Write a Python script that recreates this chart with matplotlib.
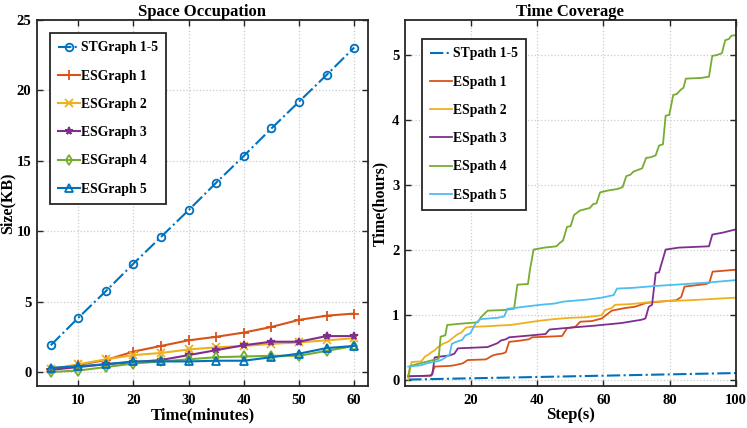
import matplotlib.pyplot as plt
import numpy as np

# ---- data: left panel (space occupation) ----
minutes = [5, 10, 15, 20, 25, 30, 35, 40, 45, 50, 55, 60]
st_graph = [1.9, 3.85, 5.75, 7.7, 9.6, 11.5, 13.45, 15.35, 17.3, 19.2, 21.1, 23.05]
es_graph1 = [0.2, 0.5, 0.85, 1.45, 1.85, 2.25, 2.5, 2.8, 3.2, 3.7, 4.0, 4.15]
es_graph2 = [0.2, 0.55, 0.9, 1.2, 1.35, 1.6, 1.75, 1.85, 2.0, 2.1, 2.25, 2.4]
es_graph3 = [0.15, 0.35, 0.55, 0.7, 0.85, 1.2, 1.55, 1.9, 2.15, 2.15, 2.55, 2.55]
es_graph4 = [0.0, 0.1, 0.35, 0.6, 0.75, 0.9, 1.05, 1.1, 1.15, 1.15, 1.5, 1.85]
es_graph5 = [0.3, 0.4, 0.55, 0.75, 0.75, 0.75, 0.8, 0.8, 1.05, 1.3, 1.7, 1.85]

# ---- data: right panel (time coverage) ----
st_path_x = [1, 100]
st_path_y = [0.0, 0.1]

es_path1_x = [1, 8, 9, 13.5, 15, 17.5, 19, 24.5, 25.5, 26.5, 28, 29.5, 30.5, 31.5, 35, 37.5,
              38.5, 47.5, 49, 51.5, 53, 56.5, 59.5, 60.5, 62.5, 66.5, 69.5, 73, 82, 83.5, 84.5,
              91, 92, 93, 100]
es_path1_y = [0.05, 0.06, 0.2, 0.21, 0.22, 0.25, 0.3, 0.31, 0.34, 0.37, 0.39, 0.4, 0.42, 0.58,
              0.6, 0.62, 0.65, 0.67, 0.79, 0.81, 0.89, 0.9, 0.94, 0.98, 1.06, 1.1, 1.12, 1.18,
              1.22, 1.27, 1.43, 1.47, 1.49, 1.66, 1.69]

es_path2_x = [1, 2, 5, 6, 7, 8, 9, 10, 11.5, 13, 14, 16, 17, 18.5, 20, 25, 28, 32, 36, 40, 45,
              50, 55, 59.5, 60.5, 62.5, 63.5, 68, 76, 86, 100]
es_path2_y = [0.0, 0.27, 0.28, 0.35, 0.38, 0.42, 0.45, 0.5, 0.55, 0.58, 0.62, 0.7, 0.72, 0.8,
              0.81, 0.82, 0.83, 0.84, 0.87, 0.9, 0.93, 0.95, 0.96, 0.99, 1.07, 1.1, 1.15, 1.16,
              1.2, 1.22, 1.26]

es_path3_x = [1, 7.5, 8.3, 9, 10, 13.5, 15, 16, 25, 26.5, 28, 29, 30.5, 31.5, 36, 42.5, 43.7,
              48, 57.5, 65.5, 71.5, 72.7, 73.7, 74.7, 75.8, 76.8, 78.8, 82.8, 91.9, 92.9, 96, 100]
es_path3_y = [0.05, 0.06, 0.08, 0.34, 0.35, 0.37, 0.4, 0.48, 0.5, 0.53, 0.56, 0.6, 0.62, 0.65,
              0.67, 0.7, 0.77, 0.79, 0.83, 0.87, 0.92, 0.94, 1.12, 1.15, 1.64, 1.65, 2.0, 2.03,
              2.05, 2.23, 2.26, 2.31]

es_path4_x = [1, 1.6, 8.5, 10.2, 10.8, 12.2, 12.8, 17, 22, 23, 25, 30, 33, 34, 37.2, 37.8, 38.9,
              42.2, 45.8, 46.8, 47.8, 49, 50.1, 51.1, 52.9, 55.9, 56.9, 57.9, 59, 61.5, 64.1,
              65.8, 66.9, 68.1, 69.1, 71.7, 72.9, 74.3, 75.8, 76.8, 78, 78.8, 79.9, 81.1, 82.1,
              83.4, 84.2, 84.9, 89.5, 91.9, 92.9, 94.1, 95.8, 96.8, 97.9, 98.7, 100]
es_path4_y = [0.05, 0.21, 0.3, 0.32, 0.66, 0.68, 0.84, 0.86, 0.88, 0.96, 1.06, 1.07, 1.09, 1.46,
              1.47, 1.69, 2.0, 2.03, 2.05, 2.1, 2.14, 2.35, 2.36, 2.53, 2.6, 2.64, 2.7, 2.71,
              2.88, 2.91, 2.93, 2.96, 3.13, 3.15, 3.2, 3.25, 3.41, 3.42, 3.45, 3.6, 3.62, 4.06,
              4.07, 4.38, 4.39, 4.46, 4.49, 4.63, 4.64, 4.66, 4.98, 4.99, 5.02, 5.22, 5.24, 5.29,
              5.3]

es_path5_x = [1, 5, 6.6, 9.7, 11, 13.5, 14.2, 15.5, 17.3, 18.3, 19.8, 21.4, 22.9, 28, 30, 31,
              33, 36, 41, 45.3, 48, 55, 59.5, 63.1, 64.1, 68.7, 75.8, 91, 100]
es_path5_y = [0.2, 0.22, 0.25, 0.28, 0.3, 0.38, 0.55, 0.58, 0.61, 0.68, 0.71, 0.87, 0.93, 0.95,
              0.97, 1.09, 1.1, 1.12, 1.15, 1.17, 1.2, 1.23, 1.26, 1.3, 1.4, 1.41, 1.44, 1.49,
              1.53]

blue = '#0072BD'
red = '#D95319'
yellow = '#EDB120'
purple = '#7E2F8E'
green = '#77AC30'
cyan = '#4DBEEE'

plt.rcParams['font.family'] = 'Liberation Serif'
plt.rcParams['font.weight'] = 'bold'

fig = plt.figure(figsize=(7.47, 4.28), dpi=100)
ax1 = fig.add_axes([0.0495, 0.098, 0.443, 0.855])
ax2 = fig.add_axes([0.542, 0.098, 0.443, 0.855])


def style_axes(ax):
    ax.grid(True, linestyle=':', color='#cccccc', linewidth=0.9)
    ax.set_axisbelow(True)
    for sp in ax.spines.values():
        sp.set_color('#262626')
        sp.set_linewidth(1.3)
    ax.tick_params(direction='in', top=True, right=True, length=4, width=1.0,
                   color='#262626', labelsize=10.5, pad=4)
    ax.tick_params(axis='x', pad=6)
    for lab in ax.get_xticklabels() + ax.get_yticklabels():
        lab.set_fontweight('bold')


mk = dict(markersize=5.5, markeredgewidth=1.3, linewidth=1.5)
ax1.plot(minutes, st_graph, '-.o', color=blue, markerfacecolor='none', label='STGraph 1-5', **mk)
ax1.plot(minutes, es_graph1, '-+', color=red, label='ESGraph 1', markersize=7, markeredgewidth=1.3, linewidth=1.5)
ax1.plot(minutes, es_graph2, '-x', color=yellow, label='ESGraph 2', **mk)
ax1.plot(minutes, es_graph3, '-*', color=purple, label='ESGraph 3', **mk)
ax1.plot(minutes, es_graph4, '-d', color=green, markerfacecolor='none', label='ESGraph 4', **mk)
ax1.plot(minutes, es_graph5, '-^', color=blue, markerfacecolor='none', label='ESGraph 5', **mk)
ax1.set_xlim(2.5, 62.5)
ax1.set_ylim(-1, 25)
ax1.set_xticks([10, 20, 30, 40, 50, 60])
ax1.set_yticks([0, 5, 10, 15, 20, 25])
ax1.set_title('Space Occupation', fontsize=12, fontweight='bold', pad=3)
ax1.set_xlabel('Time(minutes)', fontsize=12, fontweight='bold', labelpad=0)
ax1.set_ylabel('Size(KB)', fontsize=11.5, fontweight='bold')
ax1.yaxis.set_label_coords(-0.066, 0.5)
style_axes(ax1)

lw = 1.3
ax2.plot(st_path_x, st_path_y, '-.', color=blue, linewidth=1.5, label='STpath 1-5')
ax2.plot(es_path1_x, es_path1_y, color=red, linewidth=lw, label='ESpath 1')
ax2.plot(es_path2_x, es_path2_y, color=yellow, linewidth=lw, label='ESpath 2')
ax2.plot(es_path3_x, es_path3_y, color=purple, linewidth=lw, label='ESpath 3')
ax2.plot(es_path4_x, es_path4_y, color=green, linewidth=lw, label='ESpath 4')
ax2.plot(es_path5_x, es_path5_y, color=cyan, linewidth=lw, label='ESpath 5')
ax2.set_xlim(0, 100)
ax2.set_ylim(-0.1, 5.53)
ax2.set_xticks([20, 40, 60, 80, 100])
ax2.set_yticks([0, 1, 2, 3, 4, 5])
ax2.set_title('Time Coverage', fontsize=12, fontweight='bold', pad=3)
ax2.set_xlabel('Step(s)', fontsize=12, fontweight='bold', labelpad=0)
ax2.set_ylabel('Time(hours)', fontsize=11.5, fontweight='bold')
ax2.yaxis.set_label_coords(-0.051, 0.5)
style_axes(ax2)

for ax, anchor in ((ax1, (0.039, 0.964)), (ax2, (0.051, 0.948))):
    leg = ax.legend(loc='upper left', bbox_to_anchor=anchor, fontsize=9.8, labelspacing=1.12,
                    handlelength=1.6, handletextpad=0.1, borderpad=0.6, borderaxespad=0,
                    fancybox=False, framealpha=1, edgecolor='#262626')
    leg.get_frame().set_linewidth(1.3)
    for t in leg.get_texts():
        t.set_fontweight('bold')

fig.savefig('out.png', dpi=100)
